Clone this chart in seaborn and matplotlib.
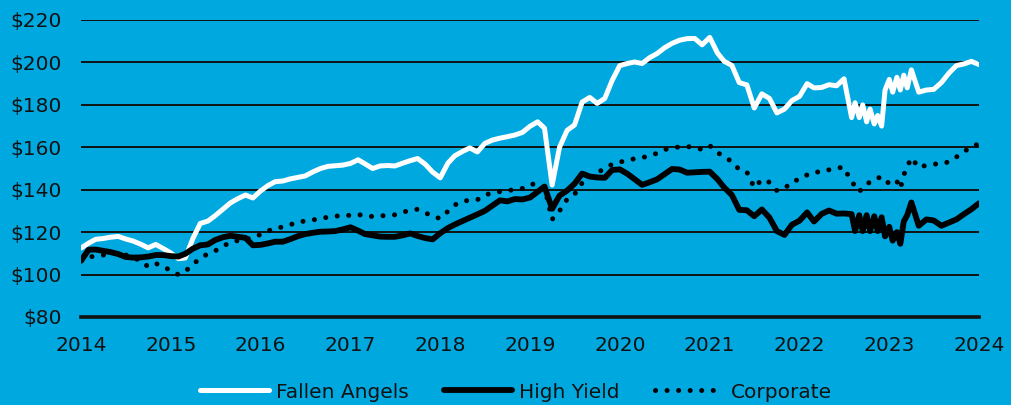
import pandas as pd
import matplotlib
matplotlib.use("Agg")
import matplotlib.pyplot as plt
import matplotlib.dates as mdates
from matplotlib.ticker import FuncFormatter
import seaborn as sns

# monthly points, semi-monthly through the noisy stretch late 2022 / early 2023
dates = (list(pd.date_range("2014-01-01", "2022-07-01", freq="MS"))
         + list(pd.date_range("2022-08-01", "2023-03-15", freq="SMS"))
         + list(pd.date_range("2023-04-01", "2024-01-01", freq="MS")))

fallen_angels = [
    112.5, 114.8, 116.6, 117.0, 117.6, 118.0, 116.8, 115.8, 114.3, 112.6, 114.2, 112.3,
    110.2, 107.5, 107.8, 117.0, 124.1, 125.2, 127.8, 130.8, 133.8, 135.8, 137.5, 136.1,
    139.4, 142.0, 143.8, 144.1, 145.1, 145.8, 146.5, 148.4, 150.0, 151.0, 151.3, 151.6,
    152.4, 154.1, 152.2, 150.0, 151.2, 151.4, 151.2, 152.5, 153.7, 154.7, 152.0, 148.3,
    145.6, 152.5, 156.0, 158.0, 159.7, 157.8, 161.8, 163.4, 164.3, 165.0, 165.8, 167.0,
    169.9, 172.0, 169.0, 142.2, 160.0, 168.0, 170.5, 181.3, 183.5, 180.7, 183.0, 191.5,
    198.5, 199.5, 200.2, 199.5, 202.2, 204.2, 206.9, 209.0, 210.5, 211.2, 211.3, 208.3,
    211.8, 204.5, 200.5, 198.6, 190.5, 189.4, 178.5, 185.2, 183.0, 176.2, 178.0, 182.0,
    184.0, 190.0, 188.0, 188.2, 189.5, 189.0, 192.3,
    174.0, 181.0, 174.0, 180.0, 172.0, 178.0, 171.0, 175.0,
    170.0, 187.0, 192.0, 186.0, 193.0, 187.0, 194.0, 188.0,
    196.5, 186.0, 187.0, 187.3, 190.5, 195.0, 198.5, 199.3, 200.5, 199.0,
]

high_yield = [
    106.5, 111.7, 111.8, 111.2, 110.6, 109.7, 108.3, 108.0, 108.1, 108.5, 109.2, 109.2,
    108.7, 108.5, 109.8, 112.2, 113.8, 114.2, 116.3, 117.6, 118.3, 117.8, 117.3, 113.8,
    114.0, 114.7, 115.5, 115.5, 116.7, 118.1, 119.1, 119.7, 120.2, 120.3, 120.5, 121.3,
    122.3, 120.7, 119.1, 118.5, 117.9, 117.8, 117.8, 118.5, 119.4, 118.2, 117.2, 116.6,
    119.5, 121.9, 123.6, 125.2, 126.7, 128.4, 130.0, 132.5, 135.0, 134.5, 135.6, 135.4,
    136.3, 139.0, 141.5, 131.0, 137.2, 139.6, 142.8, 147.6, 146.2, 145.8, 145.6, 149.3,
    149.6, 147.5, 145.0, 142.3, 143.5, 144.9, 147.3, 149.8, 149.5, 148.0, 148.2, 148.4,
    148.5, 145.0, 141.0, 137.5, 130.5, 130.3, 127.5, 130.7, 126.8, 120.5, 118.7, 123.5,
    125.4, 129.3, 125.0, 128.6, 130.2, 128.7, 128.8,
    128.5, 120.5, 128.0, 120.5, 128.0, 120.5, 127.5, 120.5,
    127.0, 118.0, 122.5, 116.0, 120.0, 114.5, 125.0, 128.0,
    134.0, 123.0, 126.0, 125.5, 123.0, 124.5, 126.0, 128.5, 130.8, 133.6,
]

corporate = [
    106.8, 108.2, 108.8, 109.2, 109.9, 109.9, 109.3, 108.0, 106.5, 103.7, 105.2, 104.0,
    101.7, 100.0, 101.5, 104.8, 107.7, 109.8, 111.2, 113.3, 115.3, 116.0, 116.6, 117.5,
    118.9, 120.6, 121.9, 122.4, 123.5, 124.8, 125.2, 125.8, 126.3, 127.1, 127.6, 127.6,
    128.0, 128.4, 127.5, 127.4, 127.7, 127.8, 128.2, 129.4, 130.3, 130.8, 129.2, 127.3,
    126.5, 129.8, 132.8, 134.5, 135.1, 135.3, 137.4, 138.6, 139.1, 139.6, 140.0, 140.6,
    142.5, 142.8, 141.0, 126.0, 130.0, 135.5, 137.8, 143.2, 146.0, 148.0, 150.0, 152.0,
    153.0, 153.9, 154.6, 155.1, 156.0, 157.2, 158.9, 159.7, 160.2, 160.4, 159.8, 159.0,
    160.8, 157.5, 155.6, 153.2, 149.5, 148.3, 141.0, 144.8, 143.5, 139.6, 140.5, 143.8,
    144.9, 147.0, 148.4, 148.3, 149.4, 150.3, 150.5,
    143.5, 142.0, 139.0, 141.0, 142.8, 143.5, 145.0, 145.6,
    145.8, 145.5, 142.5, 143.5, 144.0, 140.5, 146.9, 150.8,
    155.0, 150.5, 151.5, 152.1, 152.1, 153.2, 155.4, 157.8, 160.5, 161.5,
]

y_ticks = [80, 100, 120, 140, 160, 180, 200, 220]

bg = "#00a8e0"
ink = "#111111"

plt.rcParams["font.family"] = ["DejaVu Sans"]

fig = plt.figure(figsize=(10.11, 4.05), dpi=100, facecolor=bg)
ax = fig.add_axes([81 / 1011, 1 - 317 / 405, 898 / 1011, 297 / 405])
ax.set_facecolor(bg)

sns.lineplot(x=dates, y=fallen_angels, ax=ax, color="white", lw=3.6,
             label="Fallen Angels", zorder=3, solid_capstyle="round")
sns.lineplot(x=dates, y=corporate, ax=ax, color="black", lw=3.6,
             linestyle=(0, (0.01, 2.3)), dash_capstyle="round",
             label="Corporate", zorder=3.5)
sns.lineplot(x=dates, y=high_yield, ax=ax, color="black", lw=4.2,
             label="High Yield", zorder=4, solid_capstyle="round")

ax.set_ylim(80, 220)
ax.set_yticks(y_ticks)
ax.yaxis.set_major_formatter(FuncFormatter(lambda v, p: f"${v:.0f}"))
ax.set_xlim(pd.Timestamp("2014-01-01"), pd.Timestamp("2024-01-01"))
ax.xaxis.set_major_locator(mdates.YearLocator())
ax.xaxis.set_major_formatter(mdates.DateFormatter("%Y"))
ax.set_xlabel("")
ax.set_ylabel("")

ax.grid(axis="y", color=ink, lw=1.4)
ax.grid(axis="x", visible=False)
ax.set_axisbelow(True)
for side in ["top", "left", "right"]:
    ax.spines[side].set_visible(False)
ax.spines["bottom"].set_color(ink)
ax.spines["bottom"].set_linewidth(2.6)
ax.tick_params(length=0, pad=14, labelsize=14.5, colors=ink)

handles, labels = ax.get_legend_handles_labels()
order = [labels.index(n) for n in ["Fallen Angels", "High Yield", "Corporate"]]
if ax.get_legend() is not None:
    ax.get_legend().remove()
fig.legend([handles[i] for i in order], [labels[i] for i in order],
           loc="center", bbox_to_anchor=(516 / 1011, 1 - 392 / 405),
           ncol=3, frameon=False, fontsize=14.5, labelcolor=ink,
           handlelength=3.4, handletextpad=0.35, columnspacing=1.75)

fig.savefig("out.png", dpi=100, facecolor=bg)
